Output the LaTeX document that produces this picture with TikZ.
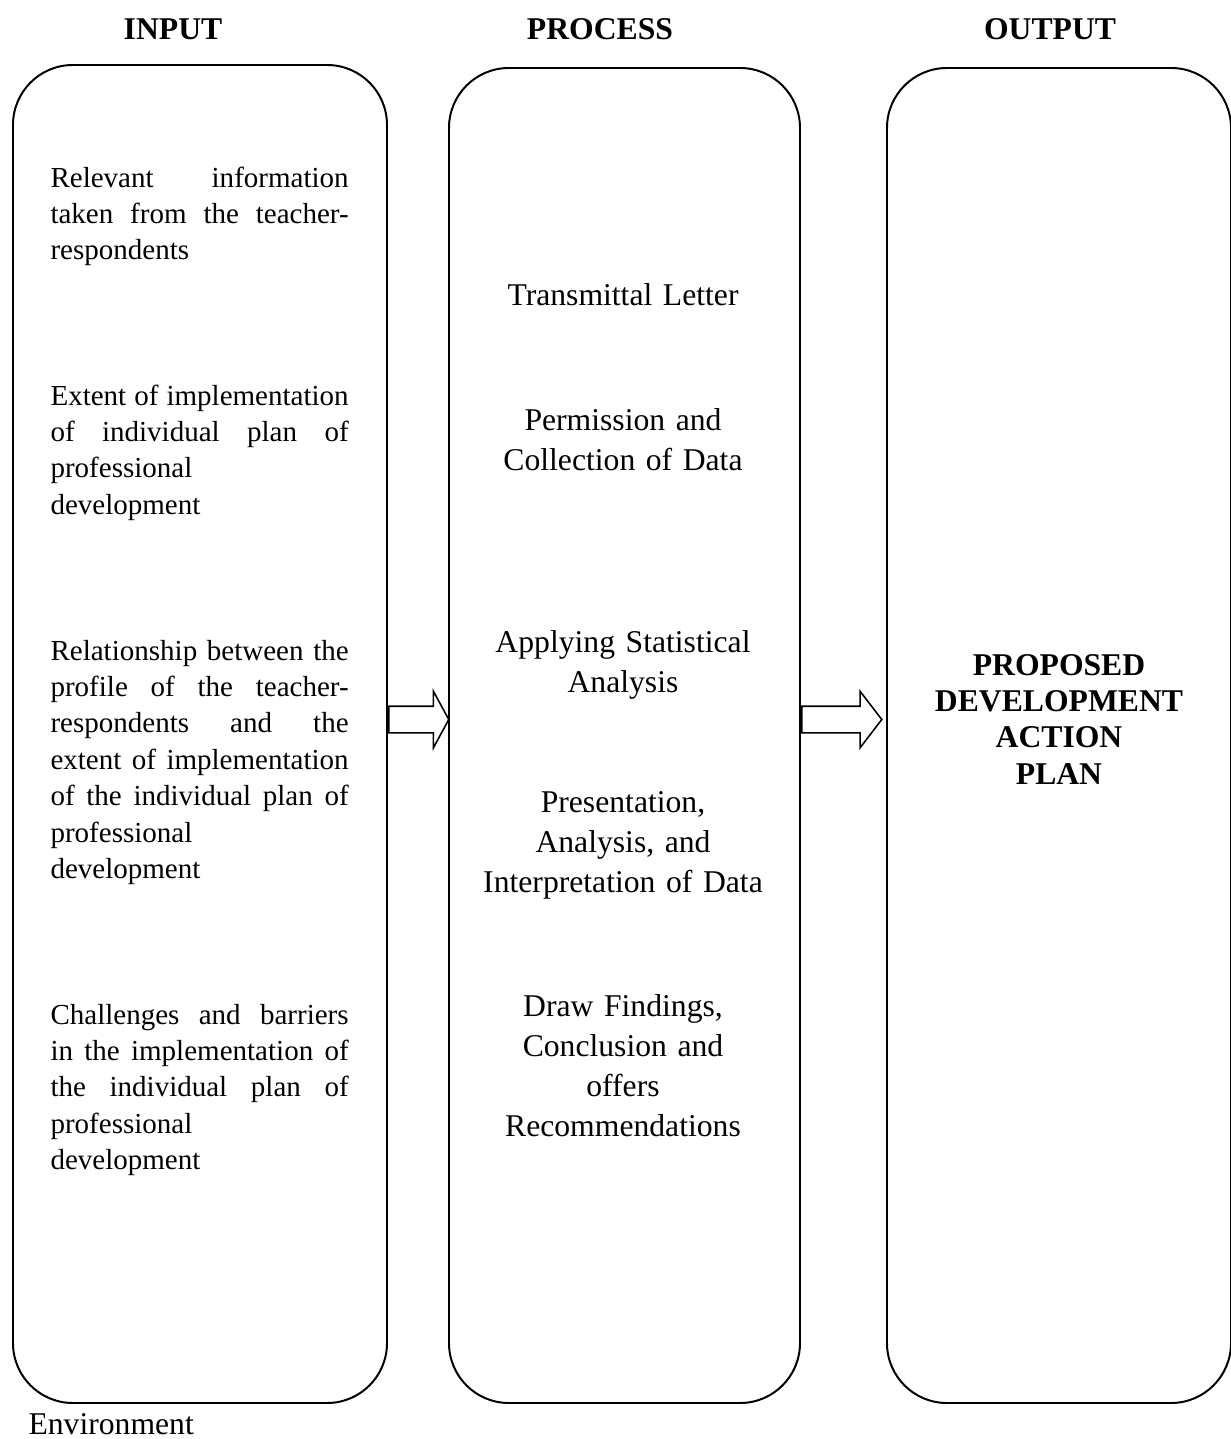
\documentclass[tikz,border=0pt]{standalone}
\usepackage{fontspec}
\setmainfont{Liberation Serif}
\usetikzlibrary{shapes.arrows}
\tikzset{>=latex}

\begin{document}
\begin{tikzpicture}[x=0.379pt, y=-0.379pt,
    frame/.style={draw, line width=0.75pt, rounded corners=22.7pt, inner sep=0pt, anchor=north west},
    title/.style={font=\fontsize{12}{13.8}\selectfont\bfseries, inner sep=0pt, anchor=base},
    intext/.style={text width=113pt, align=justify, inner sep=0pt, anchor=base west,
        font=\fontsize{11}{13.8}\selectfont,
        execute at begin node={\tolerance=10000\relax\hyphenpenalty=10000\relax}},
    prtext/.style={text width=150pt, align=center, inner sep=0pt, anchor=base,
        font=\fontsize{12}{15.2}\selectfont},
    blockarrow/.style={single arrow, draw, line width=0.6pt, inner xsep=0pt, inner ysep=4.74pt,
        minimum width=20.85pt, single arrow head extend=5.69pt, anchor=tail}]

  \useasboundingbox (0,0) rectangle (1231,1439);

  % headings
  \node[title] (hin) at (173,40) {INPUT};
  \node[title] (hpr) at (600,40) {PROCESS};
  \node[title] (hout) at (1050,40) {OUTPUT};

  % the three columns
  \node[frame, minimum width=374*0.379pt, minimum height=1338*0.379pt] (inbox) at (12,64) {};
  \node[frame, minimum width=351*0.379pt, minimum height=1335*0.379pt] (prbox) at (448,67) {};
  \node[frame, minimum width=344*0.379pt, minimum height=1335*0.379pt] (outbox) at (886,67) {};

  % input
  \node[intext] (in1) at (50,187) {Relevant information\break taken from the teacher-\break respondents};
  \node[intext] (in2) at (50,405) {Extent of implementation\break of individual plan of\break professional\hfil\break development};
  \node[intext] (in3) at (50,660) {Relationship between the\break profile of the teacher-\break respondents and the\break extent of implementation\break of the individual plan of\break professional\hfil\break development};
  \node[intext] (in4) at (50,1024) {Challenges and barriers\break in the implementation of\break the individual plan of\break professional\hfil\break development};

  % process
  \node[prtext] (pr1) at (623,305) {Transmittal Letter};
  \node[prtext] (pr2) at (623,430) {Permission and\\ Collection of Data};
  \node[prtext] (pr3) at (623,652) {Applying Statistical\\ Analysis};
  \node[prtext] (pr4) at (623,812) {Presentation,\\ Analysis, and\\ Interpretation of Data};
  \node[prtext] (pr5) at (623,1016) {Draw Findings,\\ Conclusion and\\ offers\\ Recommendations};

  % output
  \node[prtext, font=\fontsize{12}{13.8}\selectfont\bfseries] (out) at (1059,675) {PROPOSED\\ DEVELOPMENT\\ ACTION\\ PLAN};

  % arrows between the columns
  \node[blockarrow, minimum height=60*0.379pt, single arrow tip angle=123] (arrA) at (inbox.east |- 0,719.5) {};
  \node[blockarrow, minimum height=80*0.379pt, single arrow tip angle=105] (arrB) at (prbox.east |- 0,719.5) {};

  \node[anchor=base west, inner sep=0pt, font=\fontsize{12}{13.8}\selectfont] (env) at (28,1434) {Environment};
\end{tikzpicture}
\end{document}
